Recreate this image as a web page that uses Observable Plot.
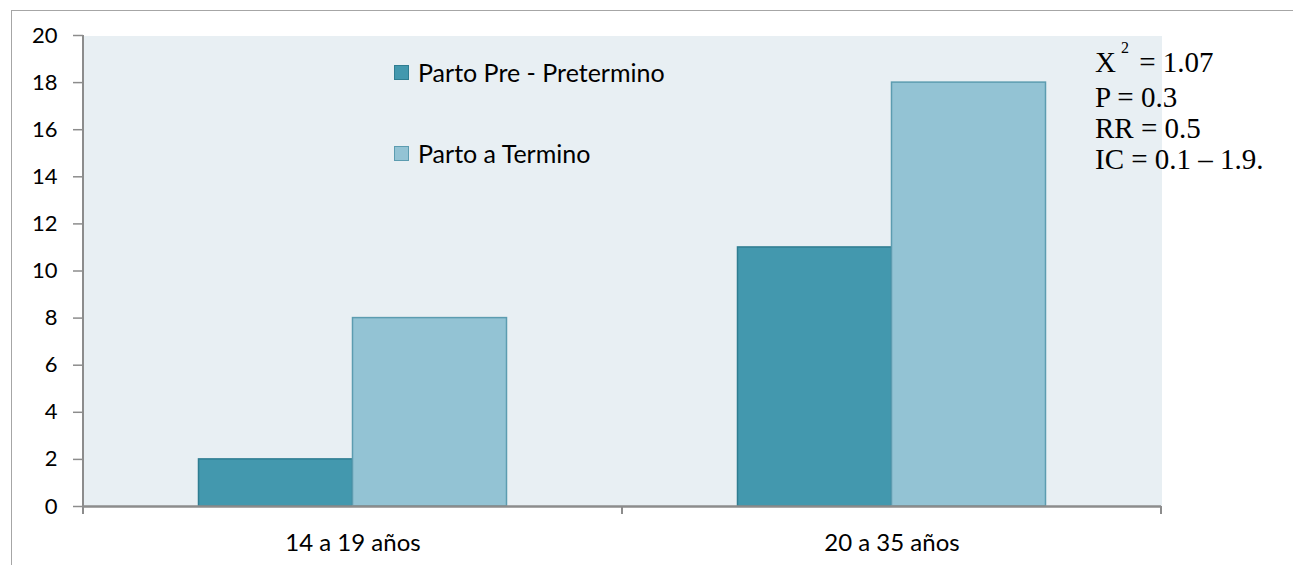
<!DOCTYPE html>
<html>
<head>
<meta charset="utf-8">
<script src="https://cdn.jsdelivr.net/npm/d3@7"></script>
<script src="https://cdn.jsdelivr.net/npm/@observablehq/plot@0.6"></script>
<style>
  html, body { margin: 0; padding: 0; background: #fff; }
  #wrap { position: relative; width: 1293px; height: 565px; overflow: hidden; }
  #border { position: absolute; left: 11px; top: 10px; right: -2px; bottom: -2px;
            border-left: 1.5px solid #a6a6a6; border-top: 1.5px solid #a6a6a6; }
  #legend { position: absolute; left: 394px; top: 0; font-family: Lato, sans-serif; font-size: 25px; color: #000; }
  .lg { position: absolute; white-space: nowrap; display: flex; align-items: center; }
  .sw { width: 13px; height: 13px; margin-right: 9px; border: 1.5px solid; }
  #stats { position: absolute; left: 1095px; top: 47px; font-family: "Liberation Serif", "Times New Roman", serif;
           font-size: 29px; line-height: 31px; color: #000; white-space: nowrap; }
  .sup { position: relative; top: -19px; font-size: 16px; margin-left: 5px; margin-right: 3px; }
</style>
</head>
<body>
<div id="wrap">
  <div id="border"></div>
  <div id="chart"></div>
  <div id="legend"></div>
  <div id="stats"></div>
</div>
<script>
const groups = ["14 a 19 años", "20 a 35 años"];
const series = ["Parto Pre - Pretermino", "Parto a Termino"];
const pretermino = [2, 11];
const termino = [8, 18];
const yTicks = [0, 2, 4, 6, 8, 10, 12, 14, 16, 18, 20];
const statLines = [
  { base: "X", sup: "2", rest: "= 1.07" },
  { base: "P = 0.3", sup: "", rest: "" },
  { base: "RR = 0.5", sup: "", rest: "" },
  { base: "IC = 0.1 – 1.9.", sup: "", rest: "" }
];
const fills = ["#4398AE", "#93C3D4"];
const strokes = ["#2F7D91", "#5C9CB0"];

const data = groups.flatMap((g, i) => [
  { group: g, serie: series[0], value: pretermino[i] },
  { group: g, serie: series[1], value: termino[i] }
]);

const W = 1293, H = 565;
const chart = Plot.plot({
  width: W, height: H,
  marginLeft: 83, marginRight: 132, marginTop: 35, marginBottom: 59,
  style: { fontFamily: "Lato, sans-serif", fontSize: "22px", color: "#000", background: "transparent" },
  fx: { domain: groups, padding: 0, round: false, axis: null },
  x: { domain: series, paddingInner: 0, paddingOuter: 0.75, round: false, axis: null },
  y: { domain: [0, 20], axis: null },
  color: { domain: series, range: fills },
  marks: [
    Plot.frame({ fill: "#E8EFF3", stroke: null, shapeRendering: "crispEdges" }),
    Plot.barY(data, {
      fx: "group", x: "serie", y: "value", fill: "serie",
      stroke: d => strokes[series.indexOf(d.serie)], strokeWidth: 1.5
    }),
    Plot.ruleY([0], { stroke: "#8c8c8c", strokeWidth: 2.5 }),
    Plot.axisY({ ticks: yTicks, tickSize: 10, tickPadding: 16, stroke: "#8c8c8c", strokeWidth: 1.5, fontSize: 22, label: null }),
    Plot.axisFx({ anchor: "bottom", tickSize: 0, tickPadding: 27, fontSize: 24, label: null })
  ]
});
document.getElementById("chart").appendChild(chart);

// axis lines and category boundary ticks, positioned by the chart's own scales
const fx = chart.scale("fx"), y = chart.scale("y");
const svg = d3.select(chart);
const y0 = y.apply(0), yTop = y.apply(20);
const x0 = fx.apply(groups[0]);
const bounds = groups.map(g => fx.apply(g)).concat([fx.apply(groups[groups.length - 1]) + fx.bandwidth]);
svg.append("line").attr("x1", x0).attr("x2", x0).attr("y1", yTop).attr("y2", y0 + 8)
  .attr("stroke", "#8c8c8c").attr("stroke-width", 2);
bounds.forEach(b => {
  svg.append("line").attr("x1", b).attr("x2", b).attr("y1", y0).attr("y2", y0 + 8)
    .attr("stroke", "#8c8c8c").attr("stroke-width", 2);
});

// legend
const legend = document.getElementById("legend");
const legendRows = [72, 153];
series.forEach((s, i) => {
  const row = document.createElement("div");
  row.className = "lg";
  row.style.top = (legendRows[i] - 16) + "px";
  row.style.height = "32px";
  const sw = document.createElement("span");
  sw.className = "sw";
  sw.style.background = fills[i];
  sw.style.borderColor = strokes[i];
  row.appendChild(sw);
  const t = document.createElement("span");
  t.textContent = s;
  row.appendChild(t);
  legend.appendChild(row);
});

// statistics annotation
const stats = document.getElementById("stats");
statLines.forEach(l => {
  const div = document.createElement("div");
  div.appendChild(document.createTextNode(l.base));
  if (l.sup) {
    const sp = document.createElement("span");
    sp.className = "sup";
    sp.textContent = l.sup;
    div.appendChild(sp);
    div.appendChild(document.createTextNode(" " + l.rest));
  }
  stats.appendChild(div);
});
</script>
</body>
</html>
